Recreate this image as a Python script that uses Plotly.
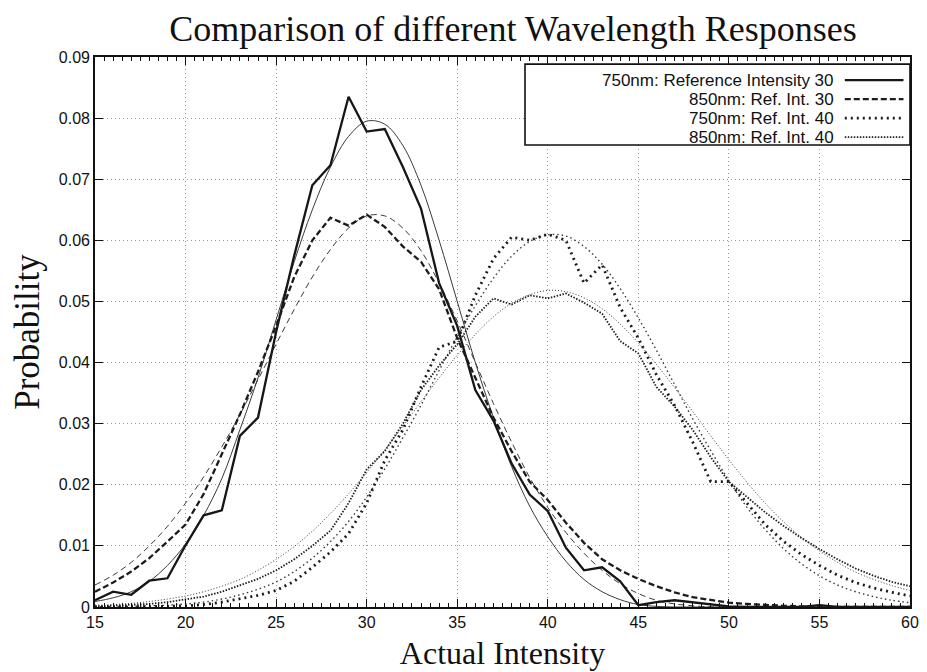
import plotly.graph_objects as go

# ---------------- data ----------------
intensity = list(range(15, 61))

ref30_750 = [0.0011, 0.0025, 0.0020, 0.0043, 0.0047, 0.0101, 0.0150, 0.0158, 0.0280, 0.0310,
             0.0450, 0.0575, 0.0690, 0.0723, 0.0835, 0.0778, 0.0782, 0.0720, 0.0652, 0.0530,
             0.0460, 0.0355, 0.0305, 0.0235, 0.0184, 0.0157, 0.0097, 0.0060, 0.0065, 0.0042,
             0.0003, 0.0008, 0.0011, 0.0008, 0.0004, 0.0001, 0.0, 0.0, 0.0, 0.0,
             0.0003, 0.0, 0.0, 0.0, 0.0, 0.0]
ref30_750_fit = [0.0009, 0.0015, 0.0025, 0.0042, 0.0068, 0.0103, 0.0150, 0.0210, 0.0290, 0.0375,
                 0.0470, 0.0565, 0.0650, 0.0720, 0.0770, 0.0795, 0.0790, 0.0755, 0.0690, 0.0600,
                 0.0500, 0.0400, 0.0310, 0.0230, 0.0165, 0.0115, 0.0075, 0.0045, 0.0025, 0.0012,
                 0.0004, 0.0001, 0.0, 0.0, 0.0, 0.0, 0.0, 0.0, 0.0, 0.0,
                 0.0, 0.0, 0.0, 0.0, 0.0, 0.0]

ref30_850 = [0.0025, 0.0040, 0.0058, 0.0080, 0.0107, 0.0135, 0.0185, 0.0250, 0.0315, 0.0385,
             0.0460, 0.0540, 0.0600, 0.0637, 0.0624, 0.0642, 0.0622, 0.0590, 0.0565, 0.0520,
             0.0440, 0.0375, 0.0310, 0.0255, 0.0205, 0.0175, 0.0138, 0.0105, 0.0078, 0.0060,
             0.0046, 0.0034, 0.0024, 0.0016, 0.0011, 0.0007, 0.0005, 0.0003, 0.0002, 0.0001,
             0.0, 0.0, 0.0, 0.0, 0.0, 0.0]
ref30_850_fit = [0.0036, 0.0052, 0.0073, 0.0100, 0.0132, 0.0170, 0.0213, 0.0262, 0.0315, 0.0372,
                 0.0430, 0.0487, 0.0540, 0.0585, 0.0620, 0.0640, 0.0640, 0.0620, 0.0583, 0.0530,
                 0.0468, 0.0400, 0.0333, 0.0270, 0.0212, 0.0163, 0.0122, 0.0088, 0.0060, 0.0038,
                 0.0022, 0.0011, 0.0005, 0.0002, 0.0, 0.0, 0.0, 0.0, 0.0, 0.0,
                 0.0, 0.0, 0.0, 0.0, 0.0, 0.0]

ref40_750 = [0.0, 0.0, 0.0, 0.0, 0.0001, 0.0002, 0.0004, 0.0008, 0.0013, 0.0019,
             0.0027, 0.0042, 0.0065, 0.0090, 0.0120, 0.0170, 0.0240, 0.0290, 0.0360, 0.0425,
             0.0435, 0.0510, 0.0570, 0.0605, 0.0600, 0.0610, 0.0600, 0.0530, 0.0560, 0.0490,
             0.0440, 0.0380, 0.0330, 0.0270, 0.0205, 0.0205, 0.0170, 0.0135, 0.0108, 0.0086,
             0.0068, 0.0052, 0.0040, 0.0031, 0.0024, 0.0018]
ref40_750_fit = [0.0000, 0.0001, 0.0001, 0.0002, 0.0003, 0.0005, 0.0008, 0.0013, 0.0020, 0.0029,
                 0.0041, 0.0058, 0.0080, 0.0107, 0.0140, 0.0180, 0.0226, 0.0277, 0.0330, 0.0387,
                 0.0442, 0.0493, 0.0538, 0.0574, 0.0598, 0.0609, 0.0607, 0.0590, 0.0561, 0.0521,
                 0.0473, 0.0420, 0.0364, 0.0308, 0.0256, 0.0207, 0.0163, 0.0127, 0.0096, 0.0071,
                 0.0051, 0.0036, 0.0025, 0.0017, 0.0011, 0.0007]

ref40_850 = [0.0001, 0.0002, 0.0003, 0.0005, 0.0008, 0.0012, 0.0017, 0.0025, 0.0035, 0.0046,
             0.0060, 0.0078, 0.0100, 0.0125, 0.0170, 0.0225, 0.0255, 0.0300, 0.0355, 0.0395,
             0.0430, 0.0475, 0.0505, 0.0495, 0.0510, 0.0505, 0.0513, 0.0498, 0.0480, 0.0435,
             0.0415, 0.0360, 0.0328, 0.0290, 0.0245, 0.0205, 0.0180, 0.0155, 0.0133, 0.0113,
             0.0095, 0.0078, 0.0063, 0.0051, 0.0041, 0.0034]
ref40_850_fit = [0.0003, 0.0004, 0.0006, 0.0009, 0.0013, 0.0018, 0.0025, 0.0034, 0.0045, 0.0060,
                 0.0078, 0.0099, 0.0124, 0.0153, 0.0185, 0.0220, 0.0257, 0.0296, 0.0336, 0.0375,
                 0.0412, 0.0446, 0.0475, 0.0497, 0.0511, 0.0518, 0.0516, 0.0506, 0.0488, 0.0463,
                 0.0432, 0.0397, 0.0359, 0.0320, 0.0280, 0.0241, 0.0204, 0.0170, 0.0140, 0.0114,
                 0.0092, 0.0073, 0.0057, 0.0045, 0.0035, 0.0027]

series_names = ["750nm: Reference Intensity 30", "850nm: Ref. Int. 30",
                "750nm: Ref. Int. 40", "850nm: Ref. Int. 40"]

x_ticks = [15, 20, 25, 30, 35, 40, 45, 50, 55, 60]
y_ticks = [0, 0.01, 0.02, 0.03, 0.04, 0.05, 0.06, 0.07, 0.08, 0.09]
y_tick_text = ["0", "0.01", "0.02", "0.03", "0.04", "0.05", "0.06", "0.07", "0.08", "0.09"]

title_text = "Comparison of different Wavelength Responses"
x_title = "Actual Intensity"
y_title = "Probability"

# ---------------- styles ----------------
data_styles = [
    dict(color="#161616", width=2.3, dash="solid"),
    dict(color="#1c1c1c", width=2.3, dash="6px,3px"),
    dict(color="#1c1c1c", width=2.8, dash="2px,4px"),
    dict(color="#202020", width=1.8, dash="1.5px,1.5px"),
]
fit_styles = [
    dict(color="#3a3a3a", width=1.0, dash="solid"),
    dict(color="#3a3a3a", width=1.0, dash="6px,4px"),
    dict(color="#3a3a3a", width=1.4, dash="1.5px,3px"),
    dict(color="#3a3a3a", width=1.0, dash="1px,2px"),
]

data_series = [ref30_750, ref30_850, ref40_750, ref40_850]
fit_series = [ref30_750_fit, ref30_850_fit, ref40_750_fit, ref40_850_fit]

fig = go.Figure()
for name, ys, st in zip(series_names, fit_series, fit_styles):
    fig.add_trace(go.Scatter(x=intensity, y=ys, mode="lines", line=dict(shape="spline", **st),
                             name=name + " (fit)", showlegend=False, hoverinfo="skip"))
for name, ys, st in zip(series_names, data_series, data_styles):
    fig.add_trace(go.Scatter(x=intensity, y=ys, mode="lines", line=dict(shape="linear", **st),
                             name=name, showlegend=False))

# ---------------- manual gnuplot-style legend ----------------
shapes = [dict(type="rect", xref="paper", yref="paper", x0=0.5276, x1=1.0, y0=0.840, y1=0.987,
               line=dict(color="#111", width=1.6), fillcolor="white", layer="above")]
annotations = []
row_y = [0.958, 0.9235, 0.889, 0.8545]
for name, st, ry in zip(series_names, data_styles, row_y):
    annotations.append(dict(xref="paper", yref="paper", x=0.909, y=ry, text=name, showarrow=False,
                            xanchor="right", yanchor="middle",
                            font=dict(family="Liberation Sans, Arial, sans-serif", size=17, color="#111")))
    shapes.append(dict(type="line", xref="paper", yref="paper", x0=0.920, x1=0.992, y0=ry, y1=ry,
                       line=dict(color=st["color"], width=st["width"], dash=st["dash"]), layer="above"))

tick_font = dict(family="Liberation Sans, Arial, sans-serif", size=16, color="#111")
serif = "Liberation Serif, Times New Roman, serif"

# the page body adds an 8px offset, so the figure is drawn 8px smaller
fig.update_layout(
    width=919, height=664,
    paper_bgcolor="white", plot_bgcolor="white",
    margin=dict(l=87, r=17, t=49, b=65),
    title=dict(text=title_text, x=0.5495, xanchor="center", y=0.970, yanchor="middle",
               font=dict(family=serif, size=36, color="#111")),
    showlegend=False,
    shapes=shapes,
    annotations=annotations,
    xaxis=dict(range=[15, 60], tickvals=x_ticks, ticks="inside", ticklen=8, tickwidth=1.3,
               tickcolor="#111", showline=True, linecolor="#111", linewidth=1.6, mirror="ticks",
               showgrid=True, gridcolor="#999", griddash="1px,3px", gridwidth=1.2,
               zeroline=False, tickfont=tick_font, automargin=False,
               minor=dict(dtick=0.5, ticks="inside", ticklen=4, tickcolor="#111", showgrid=False),
               title=dict(text=x_title, font=dict(family=serif, size=32, color="#111"), standoff=12)),
    yaxis=dict(range=[0, 0.09], tickvals=y_ticks, ticktext=y_tick_text, ticks="inside", ticklen=8,
               tickwidth=1.3, tickcolor="#111", showline=True, linecolor="#111", linewidth=1.6,
               mirror="ticks", showgrid=True, gridcolor="#999", griddash="1px,3px", gridwidth=1.2,
               zeroline=False, tickfont=tick_font, automargin=False,
               title=dict(text=y_title, font=dict(family=serif, size=35, color="#111"), standoff=33)),
)

fig.write_html("out.html")
